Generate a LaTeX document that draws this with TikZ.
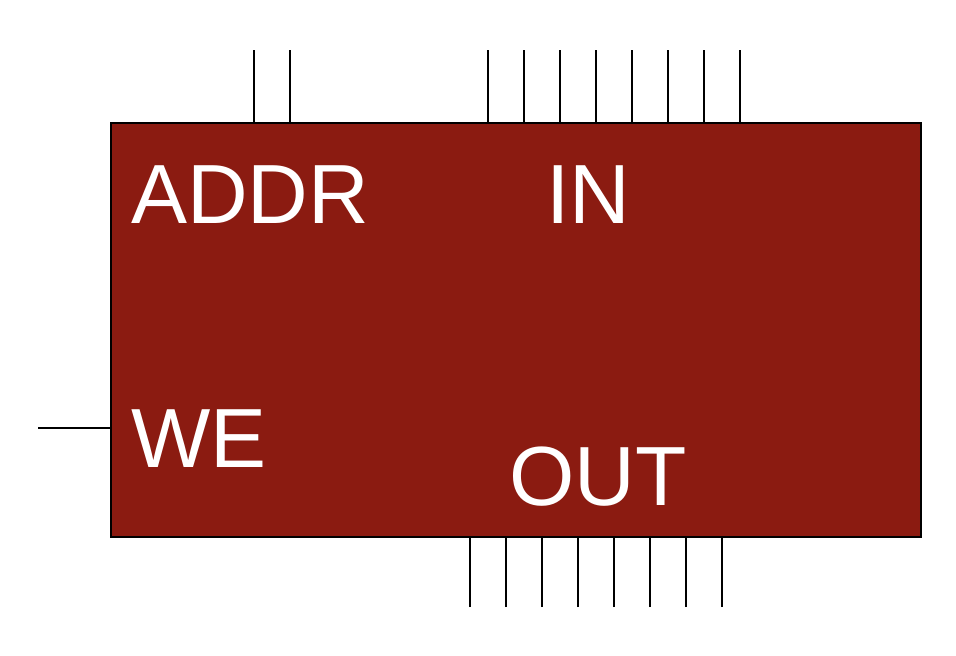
\documentclass[tikz,border=0pt]{standalone}
\usepackage{fontspec}
\setmainfont{Liberation Sans}
\definecolor{boxred}{RGB}{139,27,17}
\begin{document}
\begin{tikzpicture}[x=1pt,y=-1pt,
  pin/.style={line width=2pt,draw=black},
  lbl/.style={text=white,anchor=base west,inner sep=0pt,font=\fontsize{84}{84}\selectfont}]
\useasboundingbox (0,0) rectangle (956,656);
\node[draw=black,line width=2pt,fill=boxred,minimum width=810pt,minimum height=414pt,inner sep=0pt,anchor=north west] (box) at (110,122) {};
% ADDR pins
\foreach \x [count=\i] in {254,290} {
  \coordinate (a\i) at (\x,50);
  \draw[pin] (a\i) -- (a\i |- box.north);
}
% IN pins
\foreach \x [count=\i] in {488,524,560,596,632,668,704,740} {
  \coordinate (i\i) at (\x,50);
  \draw[pin] (i\i) -- (i\i |- box.north);
}
% OUT pins
\foreach \x [count=\i] in {470,506,542,578,614,650,686,722} {
  \coordinate (o\i) at (\x,607);
  \draw[pin] (o\i) -- (o\i |- box.south);
}
% WE pin
\coordinate (we) at (38,428);
\draw[pin] (we) -- (we -| box.west);
\node[lbl] (addr) at (131,223) {ADDR};
\node[lbl] (in) at (546,223) {IN};
\node[lbl] (wel) at (131,467) {WE};
\node[lbl] (out) at (509,505) {OUT};
\end{tikzpicture}
\end{document}
